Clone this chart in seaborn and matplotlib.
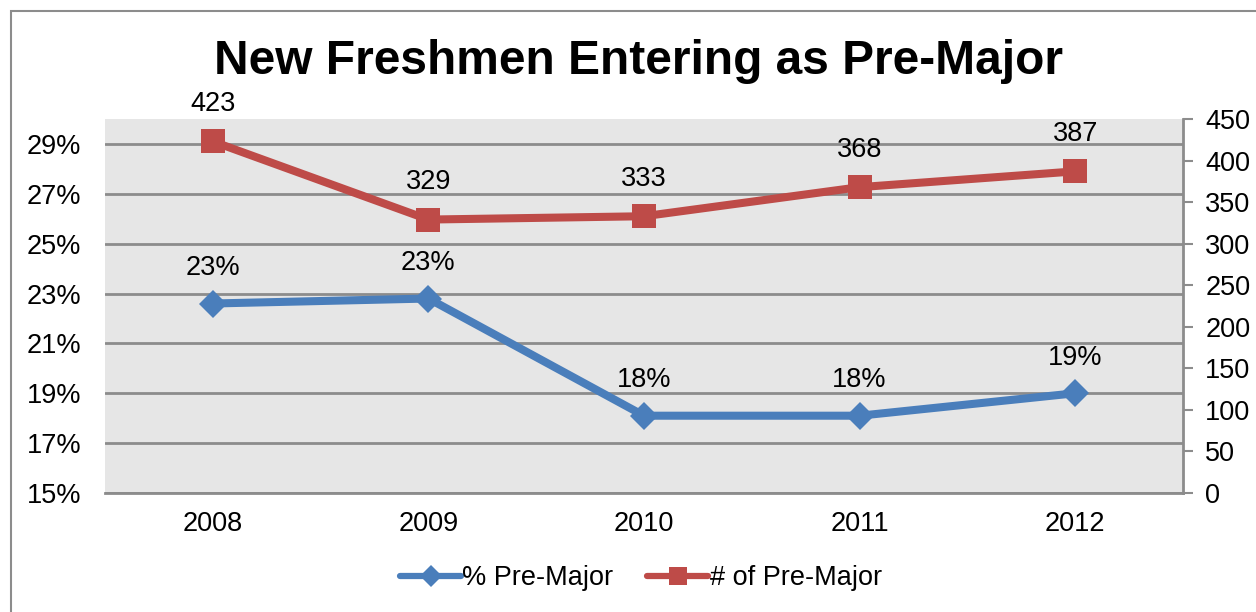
import matplotlib
matplotlib.use("Agg")
import matplotlib.pyplot as plt
import matplotlib.patches as mpatches
from matplotlib.lines import Line2D
from matplotlib.ticker import FuncFormatter
import seaborn as sns
import pandas as pd
import numpy as np

# ─── DATA ─────────────────────────────────────────────
years = ["2008", "2009", "2010", "2011", "2012"]
pct_premajor = [22.6, 22.8, 18.1, 18.1, 19.0]
pct_labels = ["23%", "23%", "18%", "18%", "19%"]
num_premajor = [423, 329, 333, 368, 387]

BLUE = "#4A7EBB"
RED = "#BE4B48"
GRID = "#8C8C8C"
FS = 19.5

sns.set_theme(style="white")
plt.rcParams["font.family"] = ["Liberation Sans", "DejaVu Sans"]
plt.rcParams["text.color"] = "black"
plt.rcParams["xtick.labelcolor"] = "black"
plt.rcParams["ytick.labelcolor"] = "black"

df = pd.DataFrame({"Year": years, "Pct": pct_premajor, "Num": num_premajor})
df["x"] = np.arange(len(df))

fig = plt.figure(figsize=(12.56, 6.12), dpi=100)
ax = fig.add_axes([105 / 1256, 119 / 612, 1078 / 1256, 374 / 612])
ax2 = ax.twinx()

# outer frame
fig.patches.append(mpatches.Rectangle((11 / 1256, -0.1), 1.2, (612 - 11) / 612 + 0.1,
                                      transform=fig.transFigure, fill=False,
                                      edgecolor="#8C8C8C", linewidth=1.5))

ax.set_facecolor("#E6E6E6")
ax.set_ylim(15, 30)
ax.set_yticks(np.arange(15, 30, 2))
ax.yaxis.set_major_formatter(FuncFormatter(lambda v, p: f"{v:.0f}%"))
ax.grid(axis="y", color=GRID, linewidth=2)
ax.set_axisbelow(True)
ax.set_xlim(-0.5, 4.5)
ax.set_xticks(df["x"])
ax.set_xticklabels(years)

ax2.set_ylim(0, 450)
ax2.set_yticks(np.arange(0, 451, 50))

for a in (ax, ax2):
    for s in a.spines.values():
        s.set_visible(False)
ax.spines["bottom"].set_visible(True)
ax.spines["bottom"].set_color(GRID)
ax.spines["bottom"].set_linewidth(2)
ax2.spines["right"].set_visible(True)
ax2.spines["right"].set_color(GRID)
ax2.spines["right"].set_linewidth(2)

ax.tick_params(axis="y", length=0, labelsize=FS, pad=17, labelcolor="black")
ax.tick_params(axis="x", length=0, labelsize=FS, pad=13, labelcolor="black")
ax2.tick_params(axis="y", length=7, width=1.5, color=GRID, direction="out",
                labelsize=FS, pad=9, right=True, labelcolor="black")

sns.lineplot(data=df, x="x", y="Pct", ax=ax, color=BLUE, linewidth=5.8,
             marker="D", markersize=14, markeredgewidth=0, zorder=3, legend=False)
sns.lineplot(data=df, x="x", y="Num", ax=ax2, color=RED, linewidth=5.8,
             marker="s", markersize=17, markeredgewidth=0, zorder=3, legend=False)
ax.set_xlabel("")
ax.set_ylabel("")
ax2.set_ylabel("")

for xi, v, lab in zip(df["x"], pct_premajor, pct_labels):
    ax.annotate(lab, (xi, v), xytext=(0, 25.5), textcoords="offset points",
                ha="center", va="center", fontsize=FS)
for xi, v in zip(df["x"], num_premajor):
    ax2.annotate(str(v), (xi, v), xytext=(0, 27), textcoords="offset points",
                 ha="center", va="center", fontsize=FS, annotation_clip=False)

fig.text(639 / 1256, 1 - 62 / 612, "New Freshmen Entering as Pre-Major", ha="center",
         va="center", fontsize=34.5, fontweight="bold")

handles = [Line2D([], [], color=BLUE, linewidth=4.5, marker="D", markersize=11,
                  markeredgewidth=0, solid_capstyle="round"),
           Line2D([], [], color=RED, linewidth=4.5, marker="s", markersize=13,
                  markeredgewidth=0, solid_capstyle="round")]
fig.legend(handles, ["% Pre-Major", "# of Pre-Major"], loc="center",
           bbox_to_anchor=(641 / 1256, 1 - 578 / 612), ncol=2, frameon=False,
           fontsize=FS, handlelength=2.25, handletextpad=0.05, columnspacing=1.25)

fig.savefig("out.png", dpi=100)
